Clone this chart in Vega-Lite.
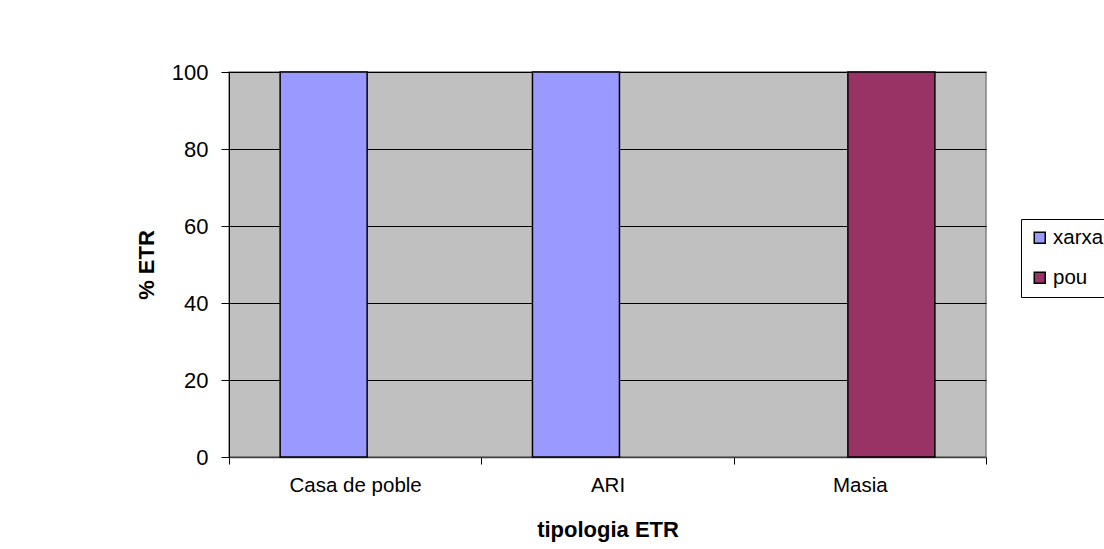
{
  "$schema": "https://vega.github.io/schema/vega-lite/v6.json",
  "width": 757,
  "height": 385,
  "autosize": "none",
  "padding": {"left": 229, "top": 72, "right": 118, "bottom": 92},
  "background": "white",
  "data": {
    "values": [
      {"tipologia": "Casa de poble", "serie": "xarxa", "valor": 100},
      {"tipologia": "Casa de poble", "serie": "pou", "valor": 0},
      {"tipologia": "ARI", "serie": "xarxa", "valor": 100},
      {"tipologia": "ARI", "serie": "pou", "valor": 0},
      {"tipologia": "Masia", "serie": "xarxa", "valor": 0},
      {"tipologia": "Masia", "serie": "pou", "valor": 100}
    ]
  },
  "transform": [{"filter": "datum.valor > 0"}],
  "config": {
    "view": {"fill": "#C0C0C0", "stroke": "#808080", "strokeWidth": 1.5},
    "font": "Liberation Sans",
    "axis": {"labelFont": "Liberation Sans", "titleFont": "Liberation Sans"}
  },
  "mark": {"type": "bar", "width": 87, "stroke": "black", "strokeWidth": 1.5},
  "encoding": {
    "x": {
      "field": "tipologia",
      "type": "nominal",
      "sort": ["Casa de poble", "ARI", "Masia"],
      "scale": {"paddingInner": 0, "paddingOuter": 0},
      "axis": {
        "title": "tipologia ETR",
        "titleFontSize": 22,
        "titleFontWeight": "bold",
        "titleColor": "black",
        "titlePadding": 24,
        "labelAngle": 0,
        "labelFontSize": 20.5,
        "labelColor": "black",
        "labelPadding": 11,
        "tickBand": "extent",
        "tickSize": 7,
        "tickColor": "black",
        "domainColor": "#404040",
        "domainWidth": 1.5,
        "grid": false
      }
    },
    "xOffset": {
      "field": "serie",
      "type": "nominal",
      "scale": {"domain": ["xarxa", "pou"], "paddingInner": 0, "paddingOuter": 1.07}
    },
    "y": {
      "field": "valor",
      "type": "quantitative",
      "scale": {"domain": [0, 100], "nice": false},
      "axis": {
        "title": "% ETR",
        "titleFontSize": 22,
        "titleFontWeight": "bold",
        "titleColor": "black",
        "titlePadding": 13,
        "values": [0, 20, 40, 60, 80, 100],
        "labelFontSize": 22,
        "labelColor": "black",
        "labelPadding": 13,
        "tickSize": 8,
        "tickColor": "black",
        "domainColor": "black",
        "gridColor": "black",
        "gridOpacity": 1,
        "gridWidth": 1
      }
    },
    "color": {
      "field": "serie",
      "type": "nominal",
      "scale": {"domain": ["xarxa", "pou"], "range": ["#9999FF", "#993366"]},
      "legend": {
        "title": null,
        "orient": "none",
        "legendX": 792,
        "legendY": 147,
        "symbolType": "square",
        "symbolSize": 121,
        "symbolStrokeColor": "black",
        "symbolStrokeWidth": 1.5,
        "labelFontSize": 20.5,
        "labelColor": "black",
        "labelFont": "Liberation Sans",
        "labelOffset": 3,
        "rowPadding": 19,
        "padding": 8.5,
        "strokeColor": "black",
        "fillColor": "white"
      }
    }
  }
}
